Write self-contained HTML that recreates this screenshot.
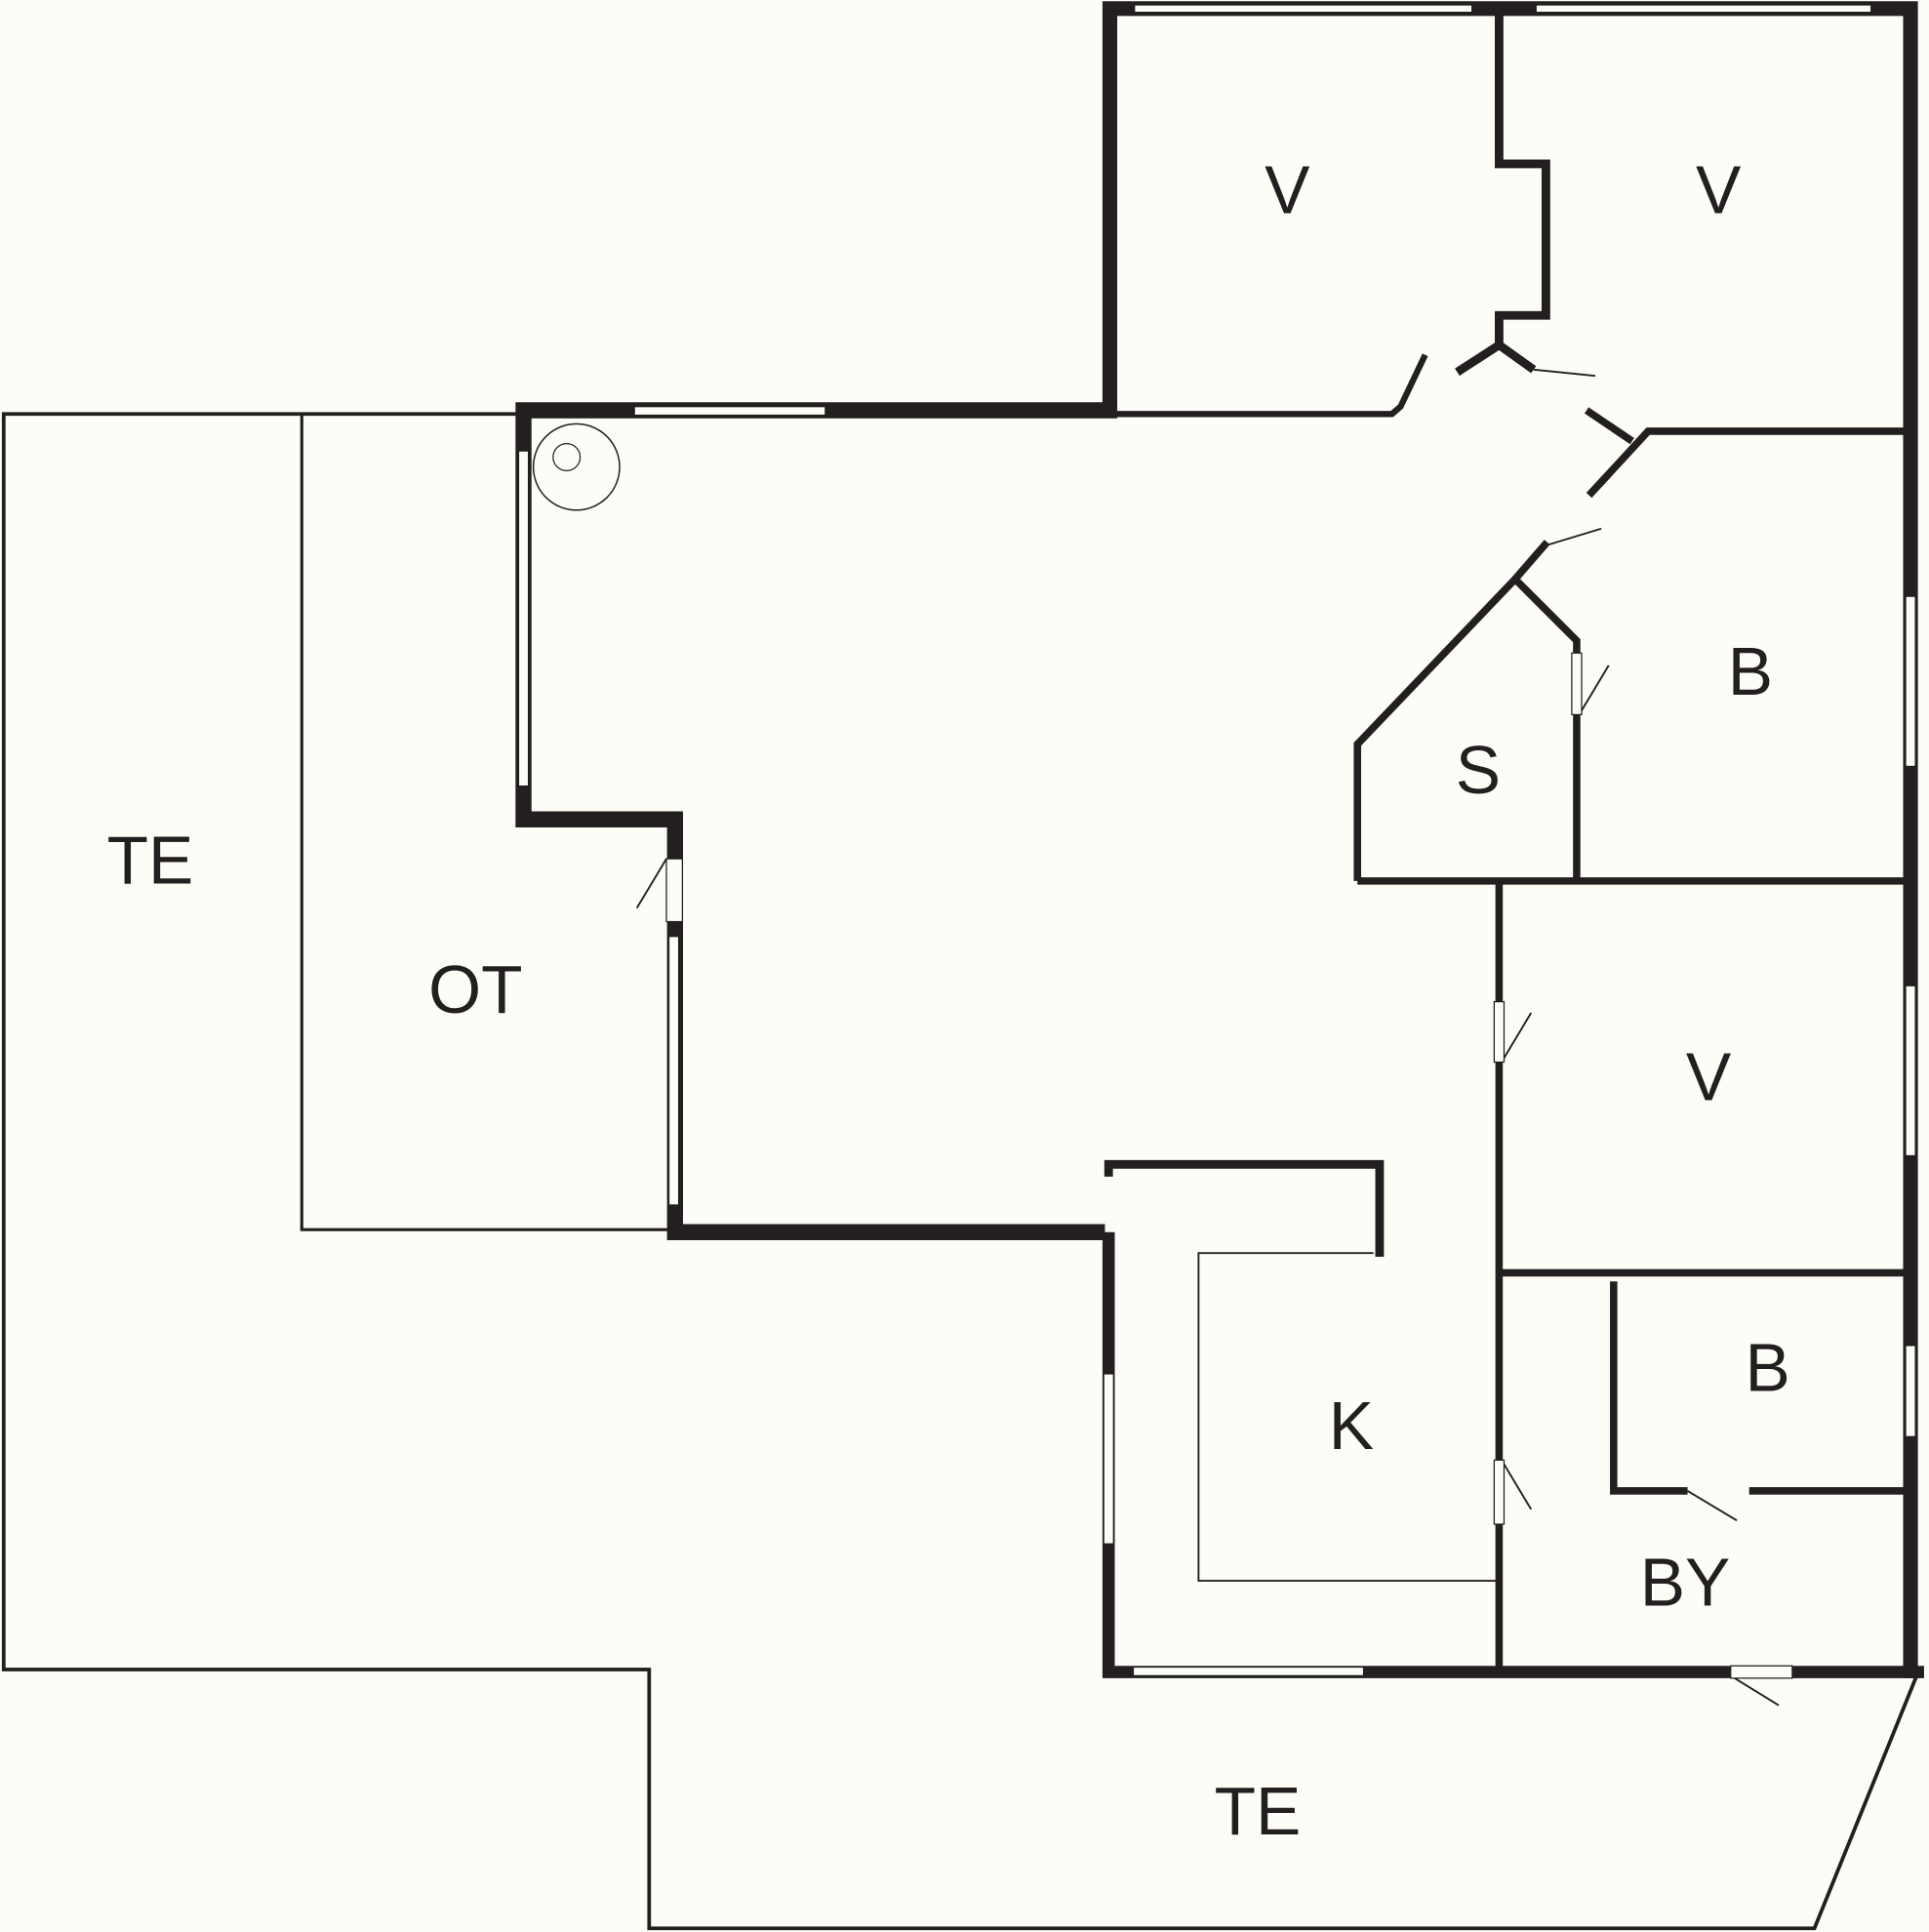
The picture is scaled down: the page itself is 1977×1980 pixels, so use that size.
<!DOCTYPE html>
<html><head><meta charset="utf-8"><style>html,body{margin:0;padding:0;background:#fdfdf8;}svg{display:block}</style></head>
<body>
<svg width="1977" height="1980" viewBox="0 0 1566 1568" preserveAspectRatio="none" xmlns="http://www.w3.org/2000/svg">
<rect width="1566" height="1568" fill="#fdfdf8"/>
<g fill="none" stroke="#231f20" stroke-linecap="butt" stroke-linejoin="miter">
<path d="M420,336 L3,336 L3,1355 L527,1355 L527,1565 L1473,1565 L1556,1360" stroke-width="3"/>
<path d="M245,336 L245,998 L545,998" stroke-width="2.5"/>
<path d="M901,330 L901,7 L1551,7 L1551,1362" stroke-width="12"/>
<path d="M900,7 L1556,7" stroke-width="10"/>
<path d="M900,336 L1130,336 L1137,330 L1157,288" stroke-width="5"/>
<path d="M1217,10 L1217,133 L1255,133 L1255,256 L1217,256 L1217,280" stroke-width="7"/>
<path d="M1183,302 L1217,280 L1245,300" stroke-width="7"/>
<path d="M1245,300 L1295,305" stroke-width="1.5"/>
<path d="M907,333 L425,333 L425,665 L548,665 L548,697" stroke-width="13"/>
<path d="M548,748 L548,1000 L897,1000" stroke-width="13"/>
<path d="M900,1000 L900,1357 L1562,1357" stroke-width="10"/>
<path d="M900,955 L900,945 L1120,945 L1120,1020" stroke-width="7"/>
<path d="M1115,1017 L973,1017 L973,1283 L1215,1283" stroke-width="1.5"/>
<path d="M1217,715 L1217,1357" stroke-width="6"/>
<path d="M1102,715 L1556,715" stroke-width="6"/>
<path d="M1217,1033 L1556,1033" stroke-width="6"/>
<path d="M1310,1040 L1310,1210 L1370,1210 M1420,1210 L1556,1210" stroke-width="6"/>
<path d="M1102,715 L1102,604 L1230,470 L1280,520 L1280,530 M1280,580 L1280,715" stroke-width="6"/>
<path d="M1230,470 L1256,440 M1290,402 L1338,350 L1556,350" stroke-width="6"/>
<path d="M1288,333 L1325,358" stroke-width="6"/>
<g stroke-width="1.5">
<path d="M1254,443 L1300,429"/>
<path d="M1282,580 L1306,540"/>
<path d="M541,697 L517,737"/>
<path d="M1219,862 L1243,822"/>
<path d="M1219,1185 L1243,1225"/>
<path d="M1370,1210 L1410,1234"/>
<path d="M1405,1360 L1444,1384"/>
</g>
<circle cx="468" cy="379" r="35" stroke-width="1.2"/>
<circle cx="460" cy="371" r="11" stroke-width="1"/>
</g>
<g fill="#fdfdf8" stroke="#231f20" stroke-width="1">
<rect x="921" y="4" width="274" height="6"/>
<rect x="1247" y="4" width="272" height="6"/>
<rect x="515" y="330" width="155" height="7"/>
<rect x="421" y="366" width="8" height="272"/>
<rect x="543" y="760" width="8" height="218"/>
<rect x="896" y="1115" width="8" height="138"/>
<rect x="920" y="1353" width="187" height="7"/>
<rect x="1547" y="484" width="8" height="138"/>
<rect x="1547" y="800" width="8" height="138"/>
<rect x="1547" y="1092" width="8" height="74"/>
<rect x="541" y="697" width="13" height="51"/>
<rect x="1213" y="813" width="8" height="49"/>
<rect x="1213" y="1185" width="8" height="52"/>
<rect x="1276" y="530" width="8" height="50"/>
<rect x="1405" y="1352" width="50" height="10"/>
</g>
<g font-family="Liberation Sans, sans-serif" font-size="55" fill="#231f20" text-anchor="middle">
<text x="1045" y="173">V</text>
<text x="1395" y="173">V</text>
<text x="1421" y="564">B</text>
<text x="1200" y="644">S</text>
<text x="122" y="717">TE</text>
<text x="386" y="822">OT</text>
<text x="1387" y="893">V</text>
<text x="1435" y="1129">B</text>
<text x="1097" y="1176">K</text>
<text x="1368" y="1303">BY</text>
<text x="1021" y="1489">TE</text>
</g>
</svg>
</body></html>
